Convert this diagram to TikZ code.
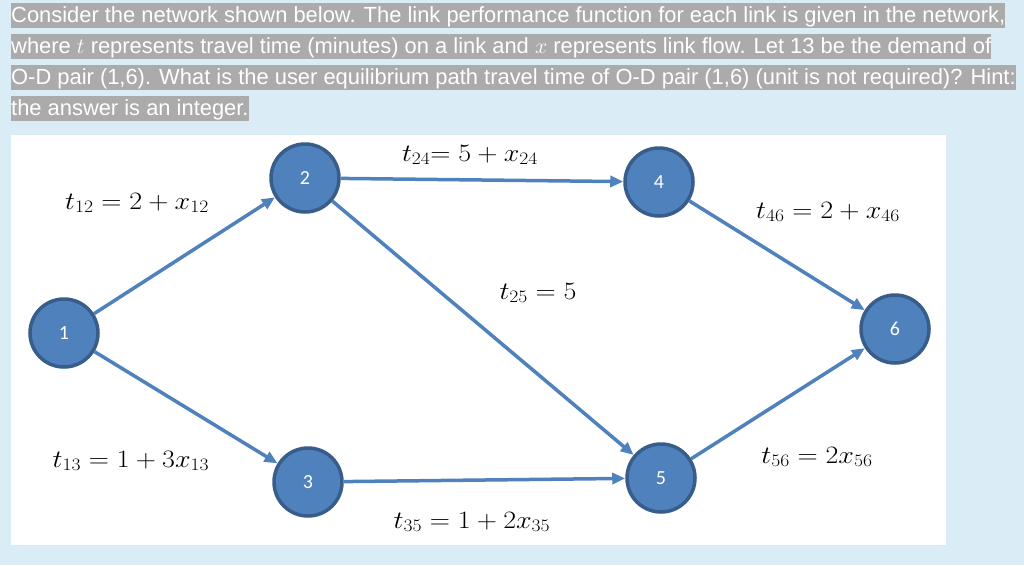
\documentclass[tikz,border=0pt]{standalone}
\usepackage{fix-cm}
\usepackage{fontspec}
\setmainfont{Liberation Sans}
\newfontfamily\nodefont{Carlito}
\usetikzlibrary{arrows.meta}
\definecolor{bgblue}{RGB}{218,236,246}
\definecolor{hlgray}{RGB}{171,171,171}
\definecolor{nodeblue}{RGB}{79,129,189}
\definecolor{nodeedge}{RGB}{56,93,138}
\definecolor{edgeblue}{RGB}{79,129,189}
\newcommand{\lblmath}[1]{\scalebox{1.12}[1]{$#1$}}
\begin{document}
\begin{tikzpicture}[x=1pt,y=-1pt,
  vertex/.style={circle, minimum size=68pt, inner sep=0pt, fill=nodeblue, draw=nodeedge, line width=3.5pt, text=white, font=\nodefont\fontsize{20}{20}\selectfont},
  link/.style={draw=edgeblue, line width=3.5pt, -{Triangle[length=13pt,width=11pt]}},
  lbl/.style={font=\fontsize{25}{25}\selectfont, inner sep=0pt},
  qline/.style={anchor=base west, fill=hlgray, text=white, inner sep=0pt, text height=19.5pt, text depth=5pt, font=\fontsize{21.9}{26}\selectfont}
]
\useasboundingbox (0,0) rectangle (1024,565);
\fill[bgblue] (0,0) rectangle (1024,565);
\fill[white] (11,135) rectangle (946,545);

\node[qline] (q1) at (11,22.5) {Consider the network shown below. The link performance function for each link is given in the network, };
\node[qline] (q2) at (11,53.5) {where $t$ represents travel time (minutes) on a link and $x$ represents link flow. Let 13 be the demand of };
\node[qline] (q3) at (11,84.5) {O-D pair (1,6). What is the user equilibrium path travel time of O-D pair (1,6) (unit is not required)? Hint: };
\node[qline] (q4) at (11,115.5) {the answer is an integer.};

\node[vertex] (n1) at (64,333) {1};
\node[vertex] (n2) at (305,178) {2};
\node[vertex] (n3) at (308,482) {3};
\node[vertex] (n4) at (659,182) {4};
\node[vertex] (n5) at (661,478) {5};
\node[vertex] (n6) at (895,329) {6};

\draw[link] (n1) -- (n2);
\draw[link] (n1) -- (n3);
\draw[link] (n2) -- (n4);
\draw[link] (n2) -- (n5);
\draw[link] (n3) -- (n5);
\draw[link] (n4) -- (n6);
\draw[link] (n5) -- (n6);

\node[lbl] (l12) at (137,203) {\lblmath{t_{12} = 2 + x_{12}}};
\node[lbl] (l24) at (470,155) {\lblmath{t_{24}{=}\;5 + x_{24}}};
\node[lbl] (l46) at (828,212) {\lblmath{t_{46} = 2 + x_{46}}};
\node[lbl] (l25) at (538,293) {\lblmath{t_{25} = 5}};
\node[lbl] (l13) at (131,461) {\lblmath{t_{13} = 1 + 3x_{13}}};
\node[lbl] (l56) at (817,457) {\lblmath{t_{56} = 2x_{56}}};
\node[lbl] (l35) at (472,522) {\lblmath{t_{35} = 1 + 2x_{35}}};
\end{tikzpicture}
\end{document}
